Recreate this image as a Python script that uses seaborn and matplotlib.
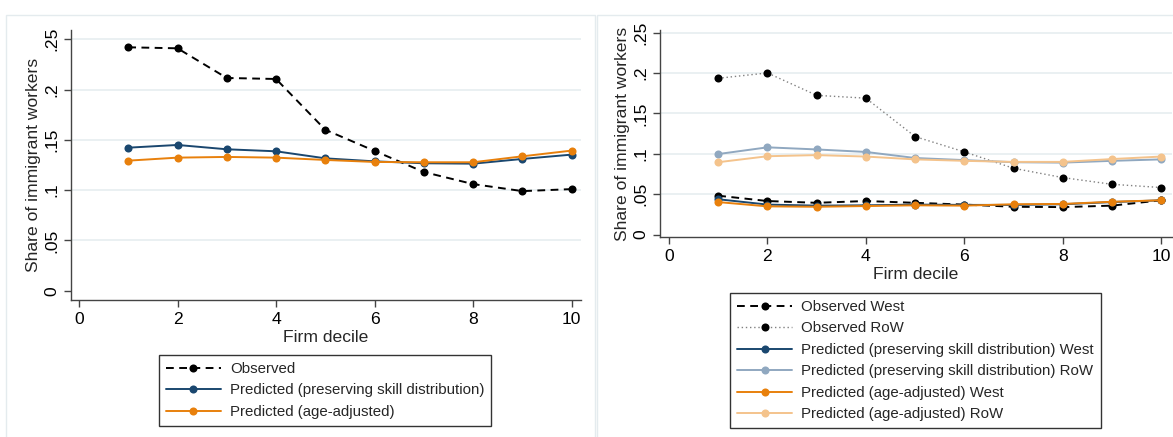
import numpy as np
import pandas as pd
import seaborn as sns
import matplotlib
matplotlib.use("Agg")
import matplotlib.pyplot as plt
from matplotlib.patches import Rectangle

# ---------------- data ----------------
deciles = [1, 2, 3, 4, 5, 6, 7, 8, 9, 10]

# left panel
observed = [0.242, 0.241, 0.2115, 0.2105, 0.160, 0.139, 0.118, 0.106, 0.099, 0.101]
pred_skill = [0.1422, 0.1449, 0.1406, 0.1386, 0.1316, 0.1286, 0.1267, 0.1263, 0.1310, 0.1353]
pred_age = [0.1293, 0.1323, 0.1330, 0.1323, 0.1300, 0.1280, 0.1277, 0.1277, 0.1336, 0.1393]

# right panel
obs_west = [0.0482, 0.0416, 0.0394, 0.0416, 0.0394, 0.0372, 0.0345, 0.0341, 0.0359, 0.0425]
obs_row = [0.1934, 0.2000, 0.1723, 0.1688, 0.1213, 0.1024, 0.0821, 0.0706, 0.0623, 0.0583]
skill_west = [0.0438, 0.0372, 0.0359, 0.0363, 0.0372, 0.0368, 0.0368, 0.0376, 0.0403, 0.0425]
skill_row = [0.0997, 0.1080, 0.1054, 0.1023, 0.0948, 0.0922, 0.0896, 0.0891, 0.0913, 0.0931]
age_west = [0.0403, 0.0350, 0.0345, 0.0354, 0.0363, 0.0359, 0.0376, 0.0380, 0.0407, 0.0425]
age_row = [0.0896, 0.0970, 0.0984, 0.0966, 0.0931, 0.0913, 0.0900, 0.0900, 0.0935, 0.0966]

xticks = [0, 2, 4, 6, 8, 10]
yticks = [0, 0.05, 0.10, 0.15, 0.20, 0.25]
ytick_labels = ["0", ".05", ".1", ".15", ".2", ".25"]

labels_left = ["Observed", "Predicted (preserving skill distribution)", "Predicted (age-adjusted)"]
labels_right = ["Observed West", "Observed RoW",
                "Predicted (preserving skill distribution) West",
                "Predicted (preserving skill distribution) RoW",
                "Predicted (age-adjusted) West", "Predicted (age-adjusted) RoW"]

# ---------------- style ----------------
sns.set_theme(style="white")
plt.rcParams["font.family"] = ["Liberation Sans", "DejaVu Sans"]

NAVY = "#1a476f"
ORANGE = "#e8800c"
LBLUE = "#90a8c0"
LORANGE = "#f4c38c"
GRID = "#e6eef0"
AXC = "#444444"
FS = 12.6
MS = 5.8

W, H = 1173, 437
fig = plt.figure(figsize=(W / 100, H / 100), dpi=100)

# panel frames
fig.patches.append(Rectangle((6 / W, -0.01), (595 - 6) / W, 1 - 15 / H + 0.01,
                             transform=fig.transFigure, fill=False,
                             edgecolor="#e4ebee", linewidth=1))
fig.patches.append(Rectangle((597 / W, -0.01), (1180 - 597) / W, 1 - 15 / H + 0.01,
                             transform=fig.transFigure, fill=False,
                             edgecolor="#e4ebee", linewidth=1))

axL = fig.add_axes([70.7 / W, 1 - 300 / H, (581 - 70.7) / W, 270 / H])
axR = fig.add_axes([660 / W, 1 - 237 / H, (1172 - 660) / W, 207 / H])


def draw(ax, y, color, ls, label, lw=1.4, ms=MS, z=3):
    sns.lineplot(x=deciles, y=y, ax=ax, color=color, linestyle=ls, linewidth=lw,
                 marker="o", markersize=ms, markeredgewidth=0,
                 markeredgecolor=color, label=label, zorder=z)


DASH = (0, (4, 2.8))
DOT = (0, (1, 2))

draw(axL, observed, "black", DASH, labels_left[0])
draw(axL, pred_skill, NAVY, "-", labels_left[1])
draw(axL, pred_age, ORANGE, "-", labels_left[2])

draw(axR, obs_west, "black", DASH, labels_right[0])
sns.lineplot(x=deciles, y=obs_row, ax=axR, color="black", linestyle=DOT, linewidth=1.0,
             marker="o", markersize=MS, markeredgewidth=0, markerfacecolor="black",
             label=labels_right[1], zorder=3)
axR.get_lines()[-1].set_color("#808080")
axR.get_lines()[-1].set_markerfacecolor("black")
axR.get_lines()[-1].set_markeredgecolor("black")
draw(axR, skill_west, NAVY, "-", labels_right[2])
draw(axR, skill_row, LBLUE, "-", labels_right[3])
draw(axR, age_west, ORANGE, "-", labels_right[4])
draw(axR, age_row, LORANGE, "-", labels_right[5])

limsL = (-0.00925, 0.2592)
limsR = (-0.00288, 0.2531)

for ax, ylim, xlim in ((axL, limsL, (-0.168, 10.19)), (axR, limsR, (-0.183, 10.22))):
    ax.set_xlim(*xlim)
    ax.set_ylim(*ylim)
    ax.set_xticks(xticks)
    ax.set_xticklabels([str(t) for t in xticks])
    ax.set_yticks(yticks)
    ax.set_yticklabels(ytick_labels, rotation=90, va="center")
    for t in yticks[1:]:
        ax.axhline(t, color=GRID, linewidth=1.2, zorder=0)
    for s in ("top", "right"):
        ax.spines[s].set_visible(False)
    for s in ("left", "bottom"):
        ax.spines[s].set_color(AXC)
        ax.spines[s].set_linewidth(1.0)
    ax.tick_params(axis="both", which="major", direction="out", length=5, width=1,
                   color=AXC, labelsize=FS, labelcolor="black", pad=3.5,
                   left=True, bottom=True)
    ax.set_xlabel("Firm decile", fontsize=FS, labelpad=2)
    ax.set_ylabel("Share of immigrant workers", fontsize=FS, labelpad=2)
    ax.set_facecolor("white")
    if ax.legend_:
        ax.legend_.remove()


def make_legend(ax, labels, top_px, center_px, fontsize=10.8):
    hmap = {h.get_label(): h for h in ax.get_lines()}
    hs = [hmap[l] for l in labels]
    leg = ax.legend(hs, labels, loc="upper center",
                    bbox_to_anchor=(center_px / W, 1 - top_px / H), bbox_transform=fig.transFigure,
                    frameon=True, fancybox=False, edgecolor="black", fontsize=fontsize,
                    handlelength=3.7, handletextpad=0.6, labelspacing=0.5,
                    borderpad=0.45, borderaxespad=0, numpoints=1)
    leg.get_frame().set_linewidth(1.0)
    return leg


make_legend(axL, labels_left, 355, 325)
make_legend(axR, labels_right, 293, 915.5)

fig.savefig("out.png", dpi=100, facecolor="white")
